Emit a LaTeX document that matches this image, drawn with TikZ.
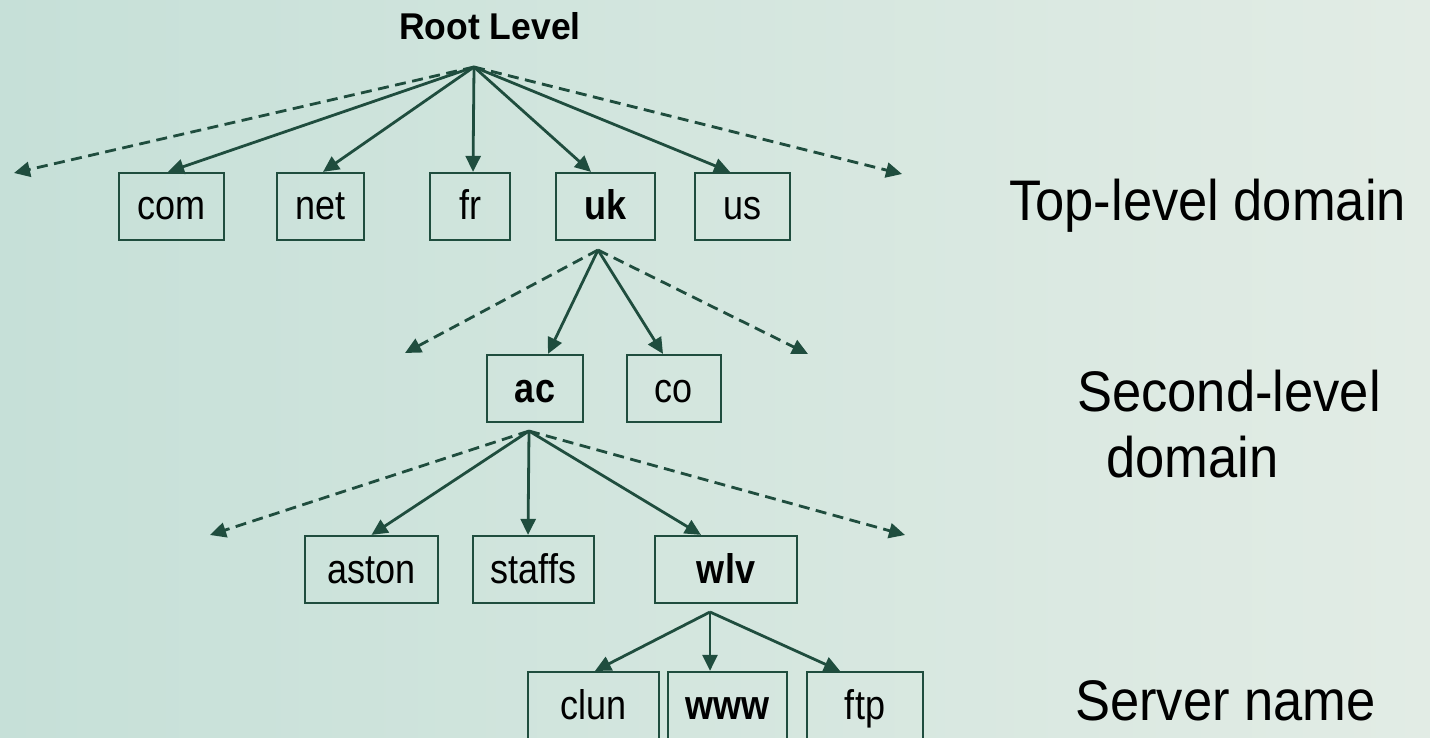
\documentclass[tikz,border=0pt]{standalone}
\usepackage{graphicx}
\usepackage{fontspec}
\setmainfont{Liberation Sans}
\usetikzlibrary{arrows.meta}
\definecolor{ink}{RGB}{31,77,62}
\definecolor{bgL}{RGB}{198,224,216}
\definecolor{bgR}{RGB}{226,236,229}
\newcommand\tall[1]{\scalebox{1}[1.15]{#1}}
\newcommand\taller[1]{\scalebox{1}[1.09]{#1}}
\tikzset{
 box/.style={draw=ink, line width=2.2pt, rectangle, inner sep=0pt, minimum height=67pt,
   text height=27pt, text depth=0pt, font=\fontsize{36}{40}\selectfont, anchor=center},
 link/.style={draw=ink, line width=2.8pt, -{Triangle[length=16pt,width=15pt]}},
 more/.style={link, dash pattern=on 11pt off 6.5pt},
 lvl/.style={anchor=base west, inner sep=0pt, font=\fontsize{52.5}{60}\selectfont},
}
\begin{document}
\begin{tikzpicture}[x=1pt,y=-1pt]
\shade[left color=bgL,right color=bgR] (0,0) rectangle (1430,738);
\useasboundingbox (0,0) rectangle (1430,738);

% labels
\node[anchor=base, inner sep=0pt, font=\fontsize{35.5}{40}\selectfont\bfseries] (root) at (490,40) {\scalebox{1}[1.05]{Root Level}};
\node[lvl] (tld) at (1009,221) {\taller{Top-level domain}};
\node[lvl] (sld1) at (1077,411) {\taller{Second-level}};
\node[lvl] (sld2) at (1106,477) {\taller{domain}};
\node[lvl] (srv) at (1075,720) {\taller{Server name}};

% fan-out points
\coordinate (r0) at (474,67);
\coordinate (r1) at (598,250);
\coordinate (r2) at (529,431);
\coordinate (r3) at (710,612);
\coordinate (d0l) at (14,173);
\coordinate (d0r) at (902,174);
\coordinate (d1l) at (405,353);
\coordinate (d1r) at (808,354);
\coordinate (d2l) at (210,535);
\coordinate (d2r) at (905,535);

% top-level
\node[box, minimum width=105pt] (com) at (171.5,206.5) {\tall{com}};
\node[box, minimum width=87pt]  (net) at (320.5,206.5) {\tall{net}};
\node[box, minimum width=80pt]  (fr)  at (470,206.5) {\tall{fr}};
\node[box, minimum width=99pt]  (uk)  at (605.5,206.5) {\tall{\bfseries uk}};
\node[box, minimum width=95pt]  (us)  at (742.5,206.5) {\tall{us}};
% second-level
\node[box, minimum width=96pt] (ac) at (535,388.5) {\tall{\bfseries ac}};
\node[box, minimum width=94pt] (co) at (674,388.5) {\tall{co}};
% third
\node[box, minimum width=133pt] (aston)  at (371.5,569.5) {\tall{aston}};
\node[box, minimum width=121pt] (staffs) at (533.5,569.5) {\tall{staffs}};
\node[box, minimum width=142pt] (wlv)    at (726,569.5) {\tall{\bfseries wlv}};
% servers
\node[box, minimum width=131pt] (clun) at (593.5,705.5) {\tall{clun}};
\node[box, minimum width=119pt] (www)  at (727.5,705.5) {\tall{\bfseries www}};
\node[box, minimum width=116pt] (ftp)  at (865,705.5) {\tall{ftp}};

% connectors
\draw[more] (r0) -- (d0l);
\draw[more] (r0) -- (d0r);
\draw[link] (r0) -- ([xshift=-3.5pt]com.north);
\draw[link] (r0) -- ([xshift=2.5pt]net.north);
\draw[link] (r0) -- ([xshift=3pt]fr.north);
\draw[link] (r0) -- ([xshift=-14.5pt]uk.north);
\draw[link] (r0) -- ([xshift=-12.5pt]us.north);

\draw[more] (r1) -- (d1l);
\draw[more] (r1) -- (d1r);
\draw[link] (r1) -- ([xshift=13pt]ac.north);
\draw[link] (r1) -- ([xshift=-11pt]co.north);

\draw[more] (r2) -- (d2l);
\draw[more] (r2) -- (d2r);
\draw[link] (r2) -- (aston.north);
\draw[link] (r2) -- ([xshift=-5.5pt]staffs.north);
\draw[link] (r2) -- ([xshift=-25pt]wlv.north);

\draw[link] (r3) -- ([xshift=1.5pt]clun.north);
\draw[link] (r3) -- ([xshift=-17.5pt]www.north);
\draw[link] (r3) -- ([xshift=-25pt]ftp.north);
\end{tikzpicture}
\end{document}
